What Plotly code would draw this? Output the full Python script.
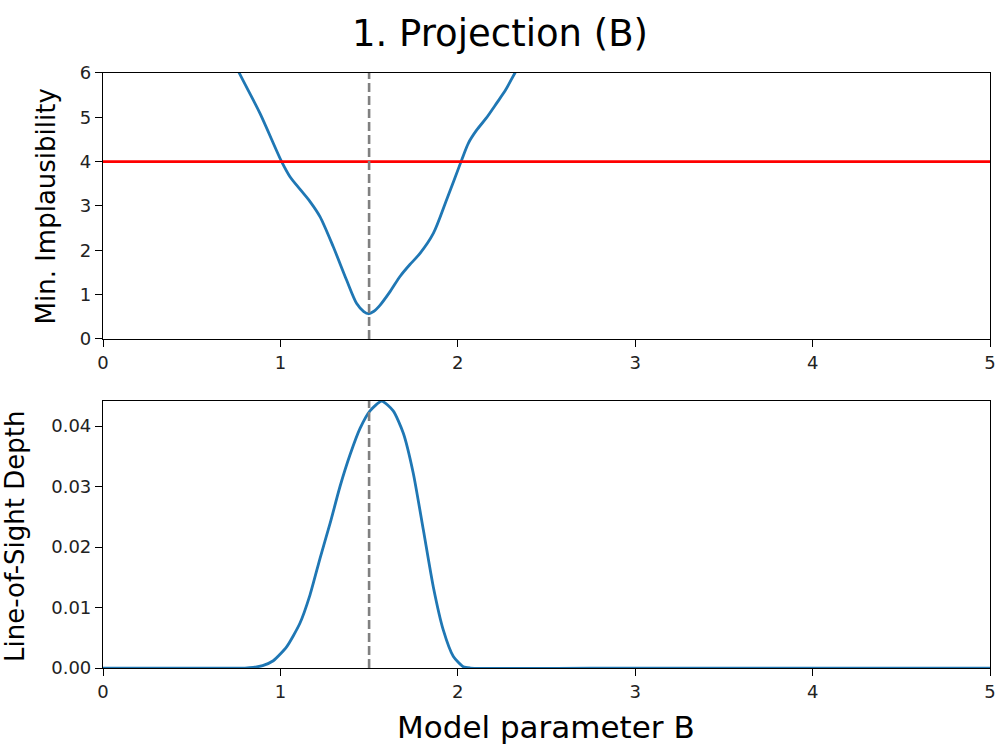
import plotly.graph_objects as go

# Top panel: minimum implausibility vs parameter B
impl_x = [0.60, 0.768, 0.885, 1.007, 1.054, 1.11, 1.167, 1.223, 1.298, 1.373, 1.43, 1.47, 1.496,
          1.525, 1.561, 1.62, 1.674, 1.73, 1.787, 1.862, 1.937, 2.022, 2.06, 2.106, 2.16, 2.219, 2.27, 2.322, 2.45]
impl_y = [7.4, 6.0, 5.09, 4.0, 3.66, 3.38, 3.10, 2.76, 2.08, 1.33, 0.80, 0.62, 0.57,
          0.62, 0.76, 1.08, 1.41, 1.68, 1.93, 2.38, 3.14, 4.04, 4.42, 4.71, 4.98, 5.32, 5.62, 6.0, 6.9]

# Bottom panel: line-of-sight depth vs parameter B
los_x = [0.0, 0.5, 0.80, 0.847, 0.90, 0.960, 1.035, 1.11, 1.167, 1.223, 1.280, 1.336, 1.392, 1.449, 1.505,
         1.571, 1.636, 1.693, 1.749, 1.806, 1.862, 1.918, 1.975, 2.031, 2.07, 3.0, 4.0, 5.0]
los_y = [0.0, 0.0, 0.0, 0.0001, 0.0004, 0.0012, 0.0035, 0.0074, 0.0121, 0.0181, 0.0239, 0.0300, 0.0352, 0.0396, 0.0425,
         0.0441, 0.0425, 0.0388, 0.0322, 0.0228, 0.0134, 0.0063, 0.0019, 0.0002, 0.0, 0.0, 0.0, 0.0]

threshold = 4.0
best_b = 1.5
x_ticks = [0, 1, 2, 3, 4, 5]
top_ticks = [0, 1, 2, 3, 4, 5, 6]
bot_ticks = [0.0, 0.01, 0.02, 0.03, 0.04]

blue = "#1f77b4"
font = "DejaVu Sans"

fig = go.Figure()
fig.add_trace(go.Scatter(x=impl_x, y=impl_y, mode="lines", line=dict(color=blue, width=2.8, shape="spline", smoothing=0.8),
                         xaxis="x", yaxis="y", showlegend=False, hoverinfo="skip"))
fig.add_trace(go.Scatter(x=[0, 5], y=[threshold, threshold], mode="lines", line=dict(color="red", width=2.6),
                         xaxis="x", yaxis="y", showlegend=False, hoverinfo="skip"))
fig.add_trace(go.Scatter(x=los_x, y=los_y, mode="lines", line=dict(color=blue, width=2.8, shape="spline", smoothing=0.6),
                         xaxis="x2", yaxis="y2", showlegend=False, hoverinfo="skip"))

for xr, yr in [("x", "y domain"), ("x2", "y2 domain")]:
    fig.add_shape(type="line", xref=xr, yref=yr, x0=best_b, x1=best_b, y0=0, y1=1,
                  line=dict(color="gray", width=2.6, dash="9px,4px"))

axis_common = dict(showgrid=False, zeroline=False, showline=True, linecolor="black", linewidth=1.2,
                   mirror=True, ticks="outside", ticklen=7, tickcolor="black", tickwidth=1.2,
                   automargin=False,
                   tickfont=dict(family=font, size=18, color="#222222"))

fig.update_layout(
    width=1000, height=750, autosize=False,
    margin=dict(l=0, r=0, t=0, b=0, pad=0),
    paper_bgcolor="white", plot_bgcolor="white",
    font=dict(family=font, color="black"),
    xaxis=dict(domain=[0.103, 0.99], anchor="y", range=[0, 5], tickvals=x_ticks, **axis_common),
    yaxis=dict(domain=[0.548, 0.9027], anchor="x", range=[0, 6], tickvals=top_ticks, **axis_common),
    xaxis2=dict(domain=[0.103, 0.99], anchor="y2", range=[0, 5], tickvals=x_ticks, **axis_common),
    yaxis2=dict(domain=[0.1093, 0.4653], anchor="x2", range=[0, 0.04413], tickvals=bot_ticks,
                tickformat=".2f", **axis_common),
    annotations=[
        dict(text="1. Projection (B)", x=0.5, y=1 - 33 / 750, xref="paper", yref="paper",
             showarrow=False, font=dict(family=font, size=37, color="black"), xanchor="center", yanchor="middle"),
        dict(text="Min. Implausibility", x=45 / 1000, y=1 - 206.5 / 750, xref="paper", yref="paper",
             showarrow=False, textangle=-90, font=dict(family=font, size=26, color="black"),
             xanchor="center", yanchor="middle"),
        dict(text="Line-of-Sight Depth", x=15 / 1000, y=1 - 537 / 750, xref="paper", yref="paper",
             showarrow=False, textangle=-90, font=dict(family=font, size=26, color="black"),
             xanchor="center", yanchor="middle"),
        dict(text="Model parameter B", x=546 / 1000, y=1 - 727 / 750, xref="paper", yref="paper",
             showarrow=False, font=dict(family=font, size=31, color="black"),
             xanchor="center", yanchor="middle"),
    ],
)

fig.write_html("out.html")
